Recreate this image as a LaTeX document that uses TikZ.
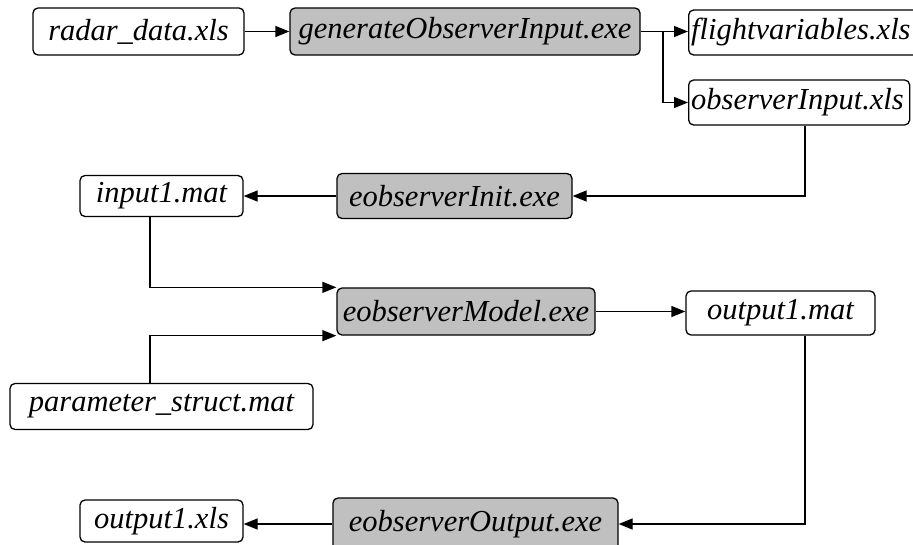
\documentclass[tikz,border=0pt]{standalone}
\usepackage{fontspec}
\setmainfont{Liberation Serif}
\usetikzlibrary{arrows.meta}
\begin{document}
\begin{tikzpicture}[x=1pt,y=-1pt,
  box/.style={draw,line width=1.3pt,rounded corners=5pt,inner sep=0pt,font=\fontsize{30.5}{34}\selectfont\itshape},
  exe/.style={box,fill={rgb,255:red,192;green,192;blue,192}},
  conn/.style={line width=1.3pt,-{Triangle[length=14pt,width=11pt]}},
  plain/.style={line width=1.3pt}]
\useasboundingbox (0,0) rectangle (913,544);
\node[box,minimum width=211pt,minimum height=47pt] (radar) at (138.5,31.5) {radar\_data.xls};
\node[exe,minimum width=350pt,minimum height=47pt] (gen) at (465,31.5) {generateObserverInput.exe};
\node[box,minimum width=240pt,minimum height=45pt,anchor=west,text width=237pt,align=left] (flight) at (688,32.5) {\hspace{1pt}flightvariables.xls};
\node[box,minimum width=221pt,minimum height=45pt,anchor=west,text width=218pt,align=left] (obsin) at (688,102.5) {\hspace{1pt}observerInput.xls};
\node[box,minimum width=163pt,minimum height=41pt] (in1) at (161.5,196) {input1.mat};
\node[exe,minimum width=235pt,minimum height=45pt] (init) at (454.5,196) {eobserverInit.exe};
\node[exe,minimum width=258pt,minimum height=47pt] (model) at (466,311.5) {eobserverModel.exe};
\node[box,minimum width=189pt,minimum height=44pt] (out1) at (780.5,313) {output1.mat};
\node[box,minimum width=303pt,minimum height=46pt] (param) at (161.5,406.5) {parameter\_struct.mat};
\node[box,minimum width=163pt,minimum height=42pt] (out1x) at (161.5,521) {output1.xls};
\node[exe,minimum width=285pt,minimum height=52pt] (outexe) at (475.5,524) {eobserverOutput.exe};
\coordinate (split) at (663,31.5);
\draw[conn] (radar.east) -- (radar.east -| gen.west);
\draw[plain] (gen.east) -- (split);
\draw[conn] (split) -- (flight.west |- split);
\draw[conn] (split) |- (obsin.west);
\draw[conn] (obsin.south -| 805,0) |- (init.east);
\draw[conn] (init.west) -- (init.west -| in1.east);
\draw[conn] (in1.south -| 150,0) |- (model.north west);
\draw[conn] (param.north -| 150,0) |- (model.south west);
\draw[conn] (model.east) -- (model.east -| out1.west);
\draw[conn] (out1.south -| 805,0) |- (outexe.east);
\draw[conn] (outexe.west) -- (outexe.west -| out1x.east);
\end{tikzpicture}
\end{document}
